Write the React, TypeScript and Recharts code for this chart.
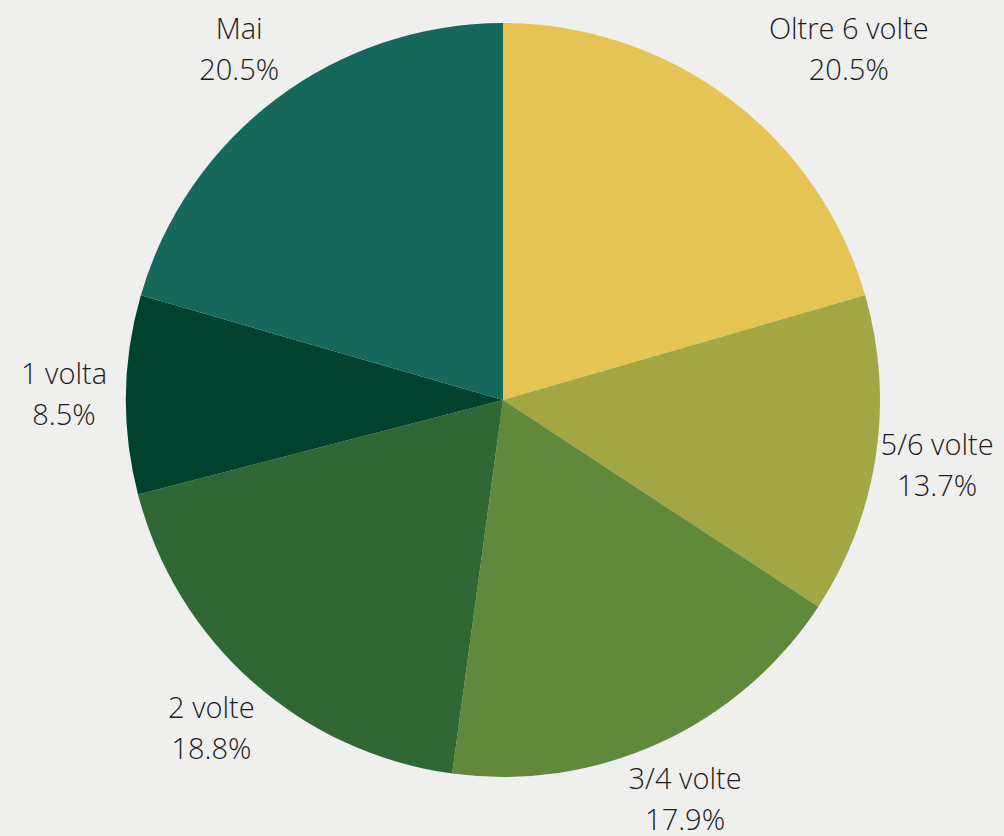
import { PieChart, Pie, Cell } from "recharts";

const categories = ["Oltre 6 volte", "5/6 volte", "3/4 volte", "2 volte", "1 volta", "Mai"];
const shares = [20.5, 13.7, 17.9, 18.8, 8.5, 20.5];
const colors = ["#E6C453", "#A2A744", "#61893C", "#2F6835", "#00422E", "#17685C"];
// small horizontal nudge for labels that sit near the top
const labelNudge = [82, 0, 0, 0, 0, 0];

const data = categories.map((name, i) => ({ name, value: shares[i] }));

const RAD = Math.PI / 180;

function renderLabel(props: any) {
  const { cx, cy, midAngle, outerRadius, index } = props;
  const r = outerRadius + 62;
  const x = cx + r * Math.cos(-midAngle * RAD) + labelNudge[index];
  const y = cy + r * Math.sin(-midAngle * RAD);
  return (
    <text
      x={x}
      y={y}
      textAnchor="middle"
      fill="#1c1c1c"
      fontFamily="'Open Sans', sans-serif"
      fontWeight={300}
      fontSize={29}
    >
      <tspan x={x} dy={-10}>{categories[index]}</tspan>
      <tspan x={x} dy={41}>{shares[index].toFixed(1)}%</tspan>
    </text>
  );
}

export default function App() {
  return (
    <div style={{ position: "fixed", left: 0, top: 0, width: 1004, height: 836, background: "#EFEFEE" }}>
      <PieChart width={1004} height={836} margin={{ top: 0, right: 0, bottom: 0, left: 0 }}>
        <Pie
          data={data}
          dataKey="value"
          cx={503}
          cy={400}
          outerRadius={377}
          startAngle={90}
          endAngle={-270}
          stroke="none"
          label={renderLabel}
          labelLine={false}
          isAnimationActive={false}
        >
          {data.map((d, i) => (
            <Cell key={d.name} fill={colors[i]} />
          ))}
        </Pie>
      </PieChart>
    </div>
  );
}
